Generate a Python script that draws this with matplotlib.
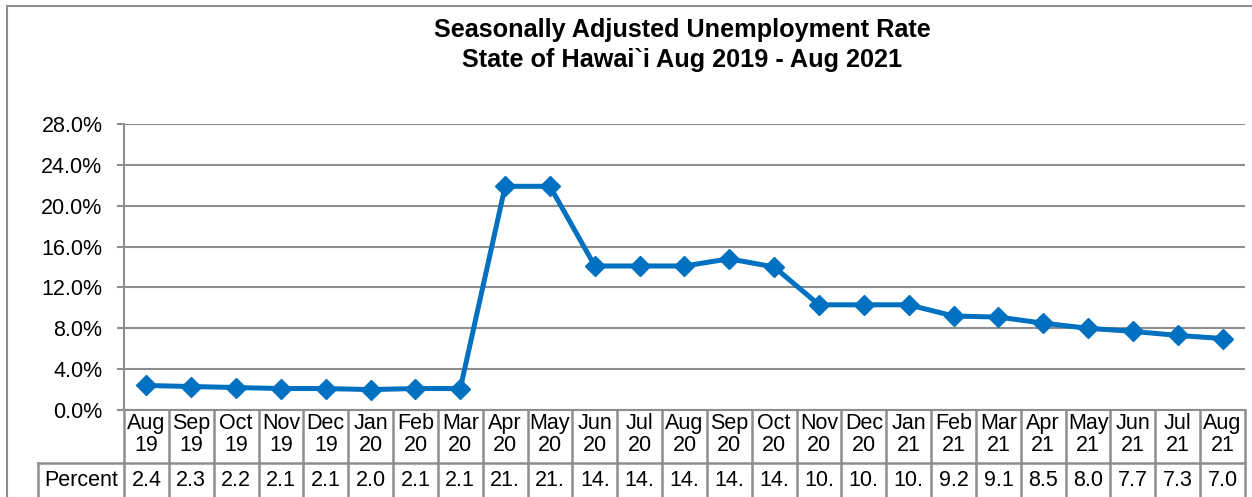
import matplotlib
matplotlib.use("Agg")
import matplotlib.pyplot as plt
from matplotlib.lines import Line2D
from matplotlib.transforms import blended_transform_factory
from matplotlib.ticker import FuncFormatter

# data
months = ["Aug", "Sep", "Oct", "Nov", "Dec", "Jan", "Feb", "Mar", "Apr", "May",
          "Jun", "Jul", "Aug", "Sep", "Oct", "Nov", "Dec", "Jan", "Feb", "Mar",
          "Apr", "May", "Jun", "Jul", "Aug"]
years = ["19", "19", "19", "19", "19", "20", "20", "20", "20", "20",
         "20", "20", "20", "20", "20", "20", "20", "21", "21", "21",
         "21", "21", "21", "21", "21"]
rate = [2.4, 2.3, 2.2, 2.1, 2.1, 2.0, 2.1, 2.1, 21.9, 21.9,
        14.1, 14.1, 14.1, 14.8, 14.0, 10.3, 10.3, 10.3, 9.2, 9.1,
        8.5, 8.0, 7.7, 7.3, 7.0]
yticks = [0, 4, 8, 12, 16, 20, 24, 28]

W, H = 1252, 497
plt.rcParams['font.family'] = ['Liberation Sans', 'DejaVu Sans']

fig = plt.figure(figsize=(W / 100, H / 100), dpi=100)
gray = "#8e8e8e"
blue = "#0070C0"
fs = 15.5

# plot area in pixel terms
left, right, top, bottom = 124, 1245, 124, 410
ax = fig.add_axes([left / W, 1 - bottom / H, (right - left) / W, (bottom - top) / H])

x = list(range(len(rate)))
ax.plot(x, rate, color=blue, lw=3.6, marker="D", markersize=10.5, zorder=3)

ax.set_xlim(-0.5, len(rate) - 0.5)
ax.set_ylim(0, 28)
ax.set_yticks(yticks)
ax.yaxis.set_major_formatter(FuncFormatter(lambda v, p: f"{v:.1f}%"))
ax.set_xticks([])
ax.grid(axis="y", color=gray, lw=1.5)
ax.set_axisbelow(True)
for s in ["top", "right"]:
    ax.spines[s].set_visible(False)
for s in ["left", "bottom"]:
    ax.spines[s].set_color(gray)
    ax.spines[s].set_linewidth(1.5)
ax.tick_params(axis="y", length=5, width=1.5, color=gray, pad=10.5,
               labelsize=fs, labelcolor="black")

# title
fig.text(682 / W, 1 - 30 / H, "Seasonally Adjusted Unemployment Rate",
         ha="center", va="center", fontsize=18.2, fontweight="bold")
fig.text(682 / W, 1 - 60 / H, "State of Hawai`i Aug 2019 - Aug 2021",
         ha="center", va="center", fontsize=18.2, fontweight="bold")

# data table under the axis
tr = blended_transform_factory(ax.transData, fig.transFigure)
row_mid = 463
for i in range(len(rate) + 1):
    fig.add_artist(Line2D([i - 0.5, i - 0.5], [1 - bottom / H, 0], transform=tr,
                          color=gray, lw=1.8))
fig.add_artist(Line2D([38 / W, right / W], [1 - row_mid / H] * 2,
                      transform=fig.transFigure, color=gray, lw=1.8))
fig.add_artist(Line2D([38 / W, 38 / W], [1 - row_mid / H, 0],
                      transform=fig.transFigure, color=gray, lw=1.8))
for i in x:
    fig.text(i, 1 - 434.5 / H, f"{months[i]}\n{years[i]}", transform=tr,
             ha="center", va="center", fontsize=fs, linespacing=1.05)
    fig.text(i, 1 - 480 / H, f"{rate[i]:.1f}"[:3], transform=tr,
             ha="center", va="center", fontsize=fs)
fig.text(81 / W, 1 - 480 / H, "Percent", ha="center", va="center", fontsize=fs)

# chart area border
fig.add_artist(Line2D([7 / W, 1], [1 - 6 / H] * 2, transform=fig.transFigure,
                      color=gray, lw=1.5))
fig.add_artist(Line2D([7 / W, 7 / W], [1 - 6 / H, 0], transform=fig.transFigure,
                      color=gray, lw=1.5))

fig.savefig("out.png", dpi=100)
